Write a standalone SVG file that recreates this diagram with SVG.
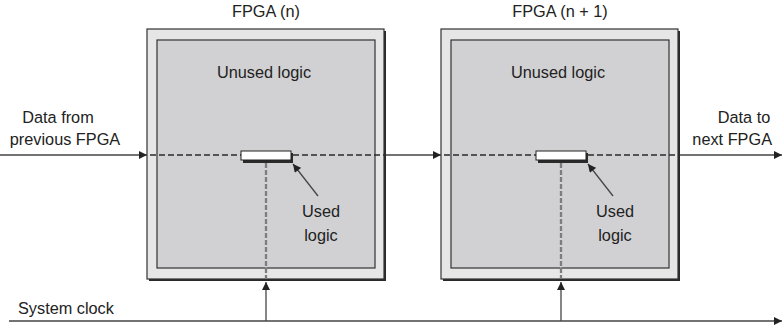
<svg xmlns="http://www.w3.org/2000/svg" width="782" height="329" viewBox="0 0 782 329">
<defs>
<style>
text{font-family:"Liberation Sans",Arial,sans-serif;font-size:16.3px;fill:#222}
.shadow{fill:#2a2a2a}
.outer{fill:#e6e6e7;stroke:#333;stroke-width:1.2}
.inner{fill:#d1d1d3;stroke:#333;stroke-width:1.2}
.solid{stroke:#444;stroke-width:1.3;fill:none}
.dash{stroke:#2a2a2a;stroke-width:1.6;stroke-dasharray:6 3;fill:none}
.vdash{stroke:#555;stroke-width:2.2;stroke-dasharray:5 2;fill:none}
.vdash2{stroke:#ddd;stroke-width:0.6;fill:none}
.used{fill:#fff;stroke:#222;stroke-width:1}
</style>
<marker id="ah" viewBox="0 0 10 10" refX="10" refY="5" markerWidth="9" markerHeight="8" markerUnits="userSpaceOnUse" orient="auto">
<path d="M0,0 L10,5 L0,10 Z" fill="#222"/>
</marker>
</defs>

<g id="fpga-n">
<rect class="shadow" x="149" y="31" width="237" height="250"/>
<rect class="outer" x="147" y="29" width="237" height="250"/>
<rect class="inner" x="157" y="40" width="218" height="228"/>
<text x="266" y="17" text-anchor="middle">FPGA (n)</text>
<text x="264" y="78" text-anchor="middle">Unused logic</text>
</g>

<g id="fpga-n1">
<rect class="shadow" x="443" y="31" width="237" height="250"/>
<rect class="outer" x="441" y="29" width="237" height="250"/>
<rect class="inner" x="451" y="40" width="218" height="228"/>
<text x="560" y="17" text-anchor="middle">FPGA (n + 1)</text>
<text x="558" y="78" text-anchor="middle">Unused logic</text>
</g>

<g id="connectors">
<line class="solid" x1="0" y1="155" x2="147" y2="155" marker-end="url(#ah)"/>
<line class="dash" x1="150" y1="155" x2="241" y2="155"/>
<line class="dash" x1="293" y1="155" x2="384" y2="155"/>
<line class="solid" x1="386" y1="155" x2="441" y2="155" marker-end="url(#ah)"/>
<line class="dash" x1="444" y1="155" x2="536" y2="155"/>
<line class="dash" x1="588" y1="155" x2="678" y2="155"/>
<line class="solid" x1="680" y1="155" x2="782" y2="155" marker-end="url(#ah)"/>

<line class="vdash" x1="266" y1="163" x2="266" y2="279"/>
<line class="vdash2" x1="266" y1="163" x2="266" y2="279"/>
<line class="vdash" x1="561" y1="163" x2="561" y2="279"/>
<line class="vdash2" x1="561" y1="163" x2="561" y2="279"/>

<line class="solid" x1="9" y1="321" x2="782" y2="321" marker-end="url(#ah)"/>
<line class="solid" x1="266" y1="321" x2="266" y2="282" marker-end="url(#ah)"/>
<line class="solid" x1="561" y1="321" x2="561" y2="282" marker-end="url(#ah)"/>

<line class="solid" x1="318" y1="196" x2="293" y2="164" marker-end="url(#ah)"/>
<line class="solid" x1="613" y1="196" x2="588" y2="164" marker-end="url(#ah)"/>
</g>

<g id="used-logic-n">
<rect class="shadow" x="243" y="153" width="50" height="10"/>
<rect class="used" x="241" y="151" width="50" height="9"/>
<text x="321" y="217" text-anchor="middle">Used</text>
<text x="321" y="241" text-anchor="middle">logic</text>
</g>

<g id="used-logic-n1">
<rect class="shadow" x="538" y="153" width="50" height="10"/>
<rect class="used" x="536" y="151" width="50" height="9"/>
<text x="615" y="217" text-anchor="middle">Used</text>
<text x="615" y="241" text-anchor="middle">logic</text>
</g>

<g id="labels">
<text x="58" y="123" text-anchor="middle">Data from</text>
<text x="65" y="145" text-anchor="middle">previous FPGA</text>
<text x="744" y="123" text-anchor="middle">Data to</text>
<text x="772" y="145" text-anchor="end">next FPGA</text>
<text x="18" y="314">System clock</text>
</g>
</svg>
